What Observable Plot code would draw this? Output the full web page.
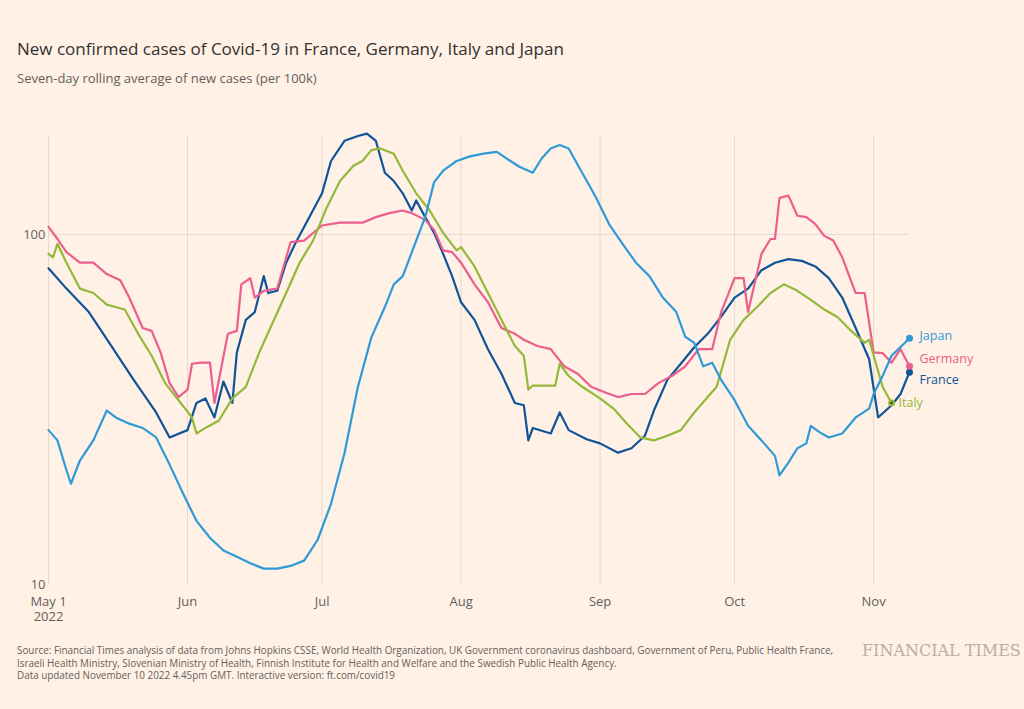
<!DOCTYPE html>
<html><head><meta charset="utf-8">
<script src="https://cdn.jsdelivr.net/npm/d3@7"></script>
<script src="https://cdn.jsdelivr.net/npm/@observablehq/plot@0.6"></script>
<style>
body{margin:0;background:#fff1e5;font-family:"Open Sans",Lato,sans-serif;width:1024px;height:709px;position:relative;overflow:hidden}
#title{position:absolute;left:17px;top:37px;font-size:17px;color:#33302e}
#sub{position:absolute;left:17px;top:69px;font-size:13px;color:#66605c}
#chart{position:absolute;left:0;top:100px}
#foot{position:absolute;left:17px;top:644px;font-size:9.9px;line-height:12.5px;color:#66605c;width:840px}
#ft{position:absolute;left:862px;top:641px;font-family:"DejaVu Serif","Liberation Serif",serif;font-size:16px;color:#b8aea5;white-space:nowrap}
</style></head><body>
<div id="title">New confirmed cases of Covid-19 in France, Germany, Italy and Japan</div>
<div id="sub">Seven-day rolling average of new cases (per 100k)</div>
<div id="chart"></div>
<div id="foot">Source: Financial Times analysis of data from Johns Hopkins CSSE, World Health Organization, UK Government coronavirus dashboard, Government of Peru, Public Health France, Israeli Health Ministry, Slovenian Ministry of Health, Finnish Institute for Health and Welfare and the Swedish Public Health Agency.<br>Data updated November 10 2022 4.45pm GMT. Interactive version: ft.com/covid19</div>
<div id="ft">FINANCIAL TIMES</div>
<script>
const france = [["05-01",80],["05-05",70],["05-10",60],["05-15",48],["05-20",38.4],["05-25",31],["05-28",26.3],["06-01",27.6],["06-03",33],["06-05",34],["06-07",30],["06-09",38],["06-11",33],["06-12",46],["06-14",57],["06-16",60],["06-18",76],["06-19",68],["06-21",69],["06-23",83],["06-25",94],["06-27",105],["07-01",131],["07-03",162],["07-06",185],["07-09",191],["07-11",194],["07-13",185],["07-15",150],["07-17",142],["07-19",131],["07-21",117],["07-22",125],["07-24",112],["07-26",101],["07-28",88],["07-30",76],["08-01",64],["08-04",57],["08-07",47],["08-10",40],["08-13",33],["08-15",32.5],["08-16",25.8],["08-17",28],["08-21",27],["08-23",31],["08-25",27.6],["08-29",26],["09-01",25.3],["09-05",23.8],["09-08",24.5],["09-11",26.6],["09-13",31.4],["09-16",38.4],["09-19",42.7],["09-22",47.6],["09-25",52],["09-28",58.2],["10-01",66],["10-04",70],["10-07",79],["10-10",83],["10-13",85],["10-16",84],["10-19",81],["10-22",75],["10-25",66],["10-28",54],["10-31",44],["11-02",30],["11-05",32.5],["11-07",35],["11-09",40.4]];
const germany = [["05-01",105],["05-03",97],["05-05",89],["05-08",83],["05-11",83],["05-14",77],["05-17",74],["05-19",66],["05-22",54],["05-24",53],["05-26",46],["05-28",37.6],["05-30",34.3],["06-01",36],["06-02",42.7],["06-04",43],["06-06",43],["06-07",33],["06-10",52],["06-12",53],["06-13",72],["06-15",75],["06-16",66],["06-18",69],["06-21",70],["06-24",95],["06-27",96],["07-01",106],["07-05",108],["07-10",108],["07-13",112],["07-16",115],["07-19",117],["07-21",115],["07-24",110],["07-26",103],["07-28",90],["07-30",89],["08-01",83],["08-04",72],["08-07",64],["08-10",54],["08-13",52],["08-15",50],["08-18",48],["08-21",47],["08-24",42],["08-27",40],["08-30",36.7],["09-02",35.4],["09-05",34.3],["09-08",35],["09-11",35],["09-14",37.6],["09-17",39.4],["09-20",42],["09-23",47],["09-26",47],["09-28",60],["10-01",75],["10-03",75],["10-04",60],["10-07",88],["10-09",97],["10-10",97],["10-11",127],["10-13",129],["10-15",113],["10-17",112],["10-19",107],["10-21",99],["10-23",96],["10-25",86],["10-28",68],["10-30",68],["11-01",46],["11-03",45.8],["11-05",43],["11-07",47],["11-09",42]];
const italy = [["05-01",88],["05-02",86],["05-03",94],["05-05",83],["05-08",70],["05-11",68],["05-14",63],["05-18",61],["05-21",52],["05-24",45],["05-27",37.6],["05-30",33.6],["06-02",30],["06-03",27],["06-05",28],["06-08",29.4],["06-11",34],["06-14",36.7],["06-17",46],["06-20",56],["06-23",68],["06-26",83],["06-29",96],["07-02",119],["07-05",142],["07-08",157],["07-10",162],["07-12",174],["07-14",176],["07-17",170],["07-19",152],["07-22",131],["07-25",117],["07-28",101],["07-31",90],["08-01",92],["08-04",81],["08-07",68],["08-10",57],["08-13",48],["08-15",45],["08-16",36],["08-17",37],["08-21",37],["08-22",37],["08-23",42.7],["08-25",39.4],["08-28",36.7],["09-01",34],["09-04",31.8],["09-07",28.8],["09-10",26.3],["09-13",25.8],["09-16",26.6],["09-19",27.6],["09-22",31],["09-25",34.3],["09-27",36.7],["09-30",50],["10-03",57],["10-06",62],["10-09",68],["10-12",72],["10-15",69],["10-18",65],["10-21",61],["10-24",58],["10-27",53],["10-30",49],["10-31",50],["11-03",36.7],["11-05",33]];
const japan = [["05-01",27.6],["05-03",25.8],["05-05",21.2],["05-06",19.4],["05-08",22.6],["05-11",25.8],["05-14",31.4],["05-16",30],["05-19",28.8],["05-22",28],["05-25",26.3],["05-28",22],["05-31",18.2],["06-03",15.2],["06-06",13.6],["06-09",12.5],["06-12",12],["06-15",11.5],["06-18",11.1],["06-21",11.1],["06-24",11.3],["06-27",11.7],["06-30",13.4],["07-03",17],["07-06",23.7],["07-09",36.7],["07-12",50.8],["07-15",62],["07-17",72],["07-19",76],["07-22",96],["07-24",112],["07-26",141],["07-28",152],["07-31",162],["08-03",167],["08-06",170],["08-09",172],["08-12",162],["08-14",156],["08-17",150],["08-19",165],["08-21",176],["08-23",180],["08-25",176],["08-28",150],["08-31",128],["09-03",107],["09-06",94],["09-09",83],["09-12",76],["09-15",66],["09-18",60],["09-20",51],["09-22",49],["09-24",42],["09-26",43],["09-28",38.4],["10-01",33.6],["10-04",28.4],["10-07",25.8],["10-10",23.3],["10-11",20.5],["10-13",22.3],["10-15",24.5],["10-17",25.3],["10-18",28.4],["10-20",27.2],["10-22",26.3],["10-25",27],["10-28",30],["10-31",31.8],["11-01",35],["11-03",39.4],["11-05",45],["11-09",50.5]];
const countries = ["France","Germany","Italy","Japan"];
const colors = ["#0f5499","#eb5e8d","#96b83a","#2e9ad8"];
const monthTicks = ["2022-05-01","2022-06-01","2022-07-01","2022-08-01","2022-09-01","2022-10-01","2022-11-01"];
const monthLabels = ["May 1\n2022","Jun","Jul","Aug","Sep","Oct","Nov"];
const yTicks = [10,100];

const parse = s => new Date("2022-" + s + "T00:00:00");
const series = [france, germany, italy, japan];
const rows = series.flatMap((s,i)=>s.map(([d,v])=>({date:parse(d),value:v,country:countries[i]})));
const last = series.map((s,i)=>({date:parse(s[s.length-1][0]),value:s[s.length-1][1],country:countries[i]}));
const labelDy = {France:8,Germany:-7,Italy:0,Japan:-2};
const labelDx = {France:10,Germany:10,Italy:7,Japan:10};
const ticks = monthTicks.map(d=>new Date(d+"T00:00:00"));
const fmt = d=>monthLabels[ticks.findIndex(t=>+t===+d)];

const chart = Plot.plot({
  width:1024, height:526,
  marginLeft:48, marginRight:115, marginTop:30, marginBottom:42,
  style:{background:"transparent", fontFamily:"'Open Sans',sans-serif", fontSize:"13px", color:"#66605c"},
  x:{type:"time", domain:[parse("05-01"), parse("11-09")], label:null},
  y:{type:"log", domain:[10,198], label:null},
  color:{domain:countries, range:colors},
  marks:[
    Plot.ruleX(ticks,{stroke:"#e6d9ce", strokeWidth:1, y1:10, y2:198, insetBottom:-6}),
    Plot.ruleY([100],{stroke:"#e6d9ce", strokeWidth:1}),
    Plot.axisX({ticks, tickFormat:fmt, tickSize:0, tickPadding:10, fill:"#66605c", lineHeight:1.2, textAnchor:"middle"}),
    Plot.axisY({ticks:yTicks, tickFormat:d=>String(d), tickSize:0, tickPadding:3, fill:"#66605c"}),
    ...countries.map((c,i)=>Plot.line(rows.filter(r=>r.country===c),{x:"date",y:"value",stroke:colors[i],strokeWidth:2.2,curve:"linear"})),
    Plot.dot(last,{x:"date",y:"value",fill:"country",r:3.5}),
    Plot.dot(last.filter(d=>d.country==="Italy"),{x:"date",y:"value",fill:"#3a3a3a",r:1.2}),
    ...last.map(d=>Plot.text([d],{x:"date",y:"value",text:"country",fill:colors[countries.indexOf(d.country)],textAnchor:"start",dx:labelDx[d.country],dy:labelDy[d.country],fontSize:12.5}))
  ]
});
document.getElementById("chart").append(chart);
</script>
</body></html>
